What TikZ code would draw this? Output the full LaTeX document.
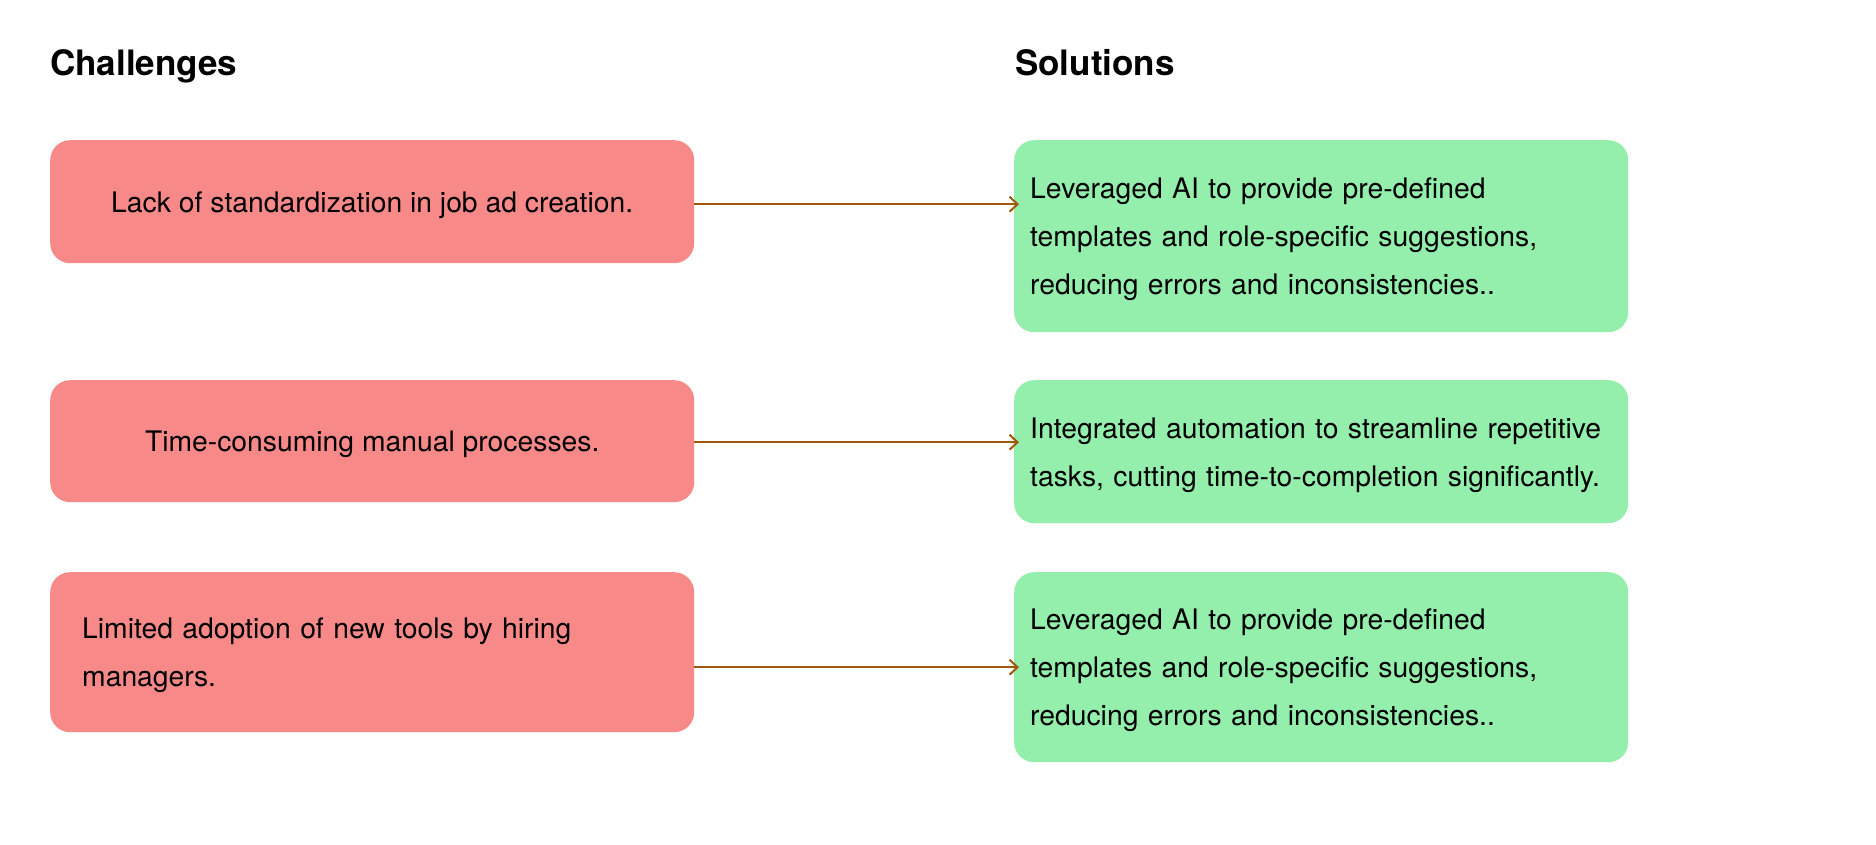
\documentclass[tikz,border=0pt]{standalone}
\usepackage{fontspec}
\setmainfont{TeX Gyre Heros}
\usetikzlibrary{arrows.meta}
\definecolor{redfill}{HTML}{F78A89}
\definecolor{greenfill}{HTML}{95EFAC}
\definecolor{arrowc}{HTML}{A0580A}
\begin{document}
\begin{tikzpicture}[x=1pt,y=-1pt,
  title/.style={font=\fontsize{35}{42}\selectfont\bfseries, anchor=base west, inner sep=0pt},
  card/.style={rounded corners=20pt, anchor=north west, inner ysep=0pt,
    font=\fontsize{28.3}{48}\selectfont, text height=27pt},
  redcard/.style={card, fill=redfill},
  greencard/.style={card, fill=greenfill, inner xsep=16pt, text width=582pt, align=left},
  conn/.style={draw=arrowc, line width=2pt, -{Straight Barb[length=8pt,width=15pt,line width=2pt]}}
]
\useasboundingbox (0,0) rectangle (1876,844);
\fill[white] (0,0) rectangle (1876,844);

\node[title] (tc) at (50,75) {Challenges};
\node[title] (ts) at (1015,75) {Solutions};

\node[redcard, minimum width=644pt, minimum height=123pt, align=center] (r1) at (50,140)
  {Lack of standardization in job ad creation.};
\node[redcard, minimum width=644pt, minimum height=122pt, align=center] (r2) at (50,380)
  {Time-consuming manual processes.};
\node[redcard, inner xsep=32pt, text width=580pt, minimum height=160pt, align=left] (r3) at (50,572)
  {Limited adoption of new tools by hiring\\managers.};

\node[greencard, minimum height=192pt] (g1) at (1014,140)
  {Leveraged AI to provide pre-defined\\templates and role-specific suggestions,\\reducing errors and inconsistencies..};
\node[greencard, minimum height=143pt] (g2) at (1014,380)
  {Integrated automation to streamline repetitive\\tasks, cutting time-to-completion significantly.};
\node[greencard, minimum height=190pt] (g3) at (1014,572)
  {Leveraged AI to provide pre-defined\\templates and role-specific suggestions,\\reducing errors and inconsistencies..};

\draw[conn] ([yshift=-2.5pt]r1.east) -- ([xshift=5pt,yshift=-2.5pt]r1.east -| g1.west);
\draw[conn] ([yshift=-1pt]r2.east) -- ([xshift=5pt,yshift=-1pt]r2.east -| g2.west);
\draw[conn] (r3.east |- g3.west) -- ([xshift=5pt]g3.west);
\end{tikzpicture}
\end{document}
